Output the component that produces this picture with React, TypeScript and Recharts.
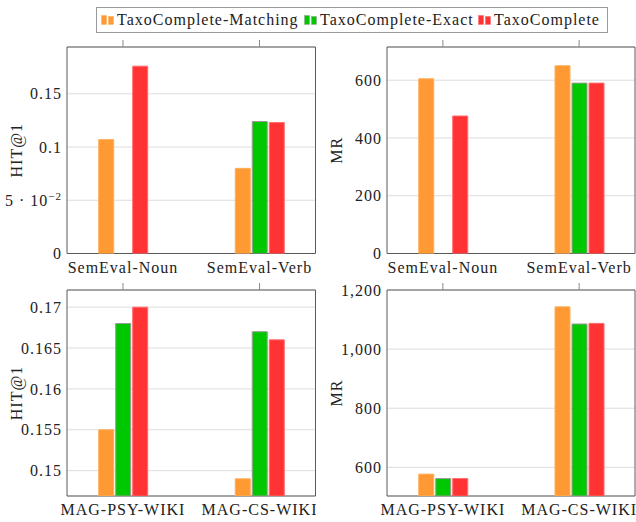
import { BarChart, Bar, XAxis, YAxis, CartesianGrid, ReferenceArea } from 'recharts';

const FONT = '"Liberation Serif", "Times New Roman", serif';

// series shown in every panel
const seriesNames = ['TaxoComplete-Matching', 'TaxoComplete-Exact', 'TaxoComplete'];
const seriesFill = ['#FF9933', '#00C800', '#FF3333'];
const seriesStroke = ['#FFAE5C', '#9A9A9A', '#FF6B6B'];

// datasets
const semevalDatasets = ['SemEval-Noun', 'SemEval-Verb'];
const magDatasets = ['MAG-PSY-WIKI', 'MAG-CS-WIKI'];

// HIT@1 on SemEval
const semevalHitMatching = [0.107, 0.08];
const semevalHitExact = [null, 0.124];
const semevalHitFull = [0.176, 0.123];

// MR on SemEval
const semevalMrMatching = [605, 650];
const semevalMrExact = [null, 590];
const semevalMrFull = [476, 590];

// HIT@1 on MAG
const magHitMatching = [0.155, 0.149];
const magHitExact = [0.168, 0.167];
const magHitFull = [0.17, 0.166];

// MR on MAG
const magMrMatching = [577, 1143];
const magMrExact = [562, 1085];
const magMrFull = [562, 1087];

// y ticks
const semevalHitTicks = [0, 0.05, 0.1, 0.15];
const semevalMrTicks = [0, 200, 400, 600];
const magHitTicks = [0.15, 0.155, 0.16, 0.165, 0.17];
const magMrTicks = [600, 800, 1000, 1200];

const xTicks = [0, 1];
const xDomain = [-0.41, 1.41];

const makeRows = (cats: string[], m: (number | null)[], e: (number | null)[], f: (number | null)[]) =>
  cats.map((name, i) => ({ idx: i, name, matching: m[i], exact: e[i], full: f[i] }));

// category label under the frame, plus the short outward tick mark above the frame
const XTick = ({ x, y, payload, labels, plotH }: any) => (
  <g>
    <line x1={x} x2={x} y1={y - plotH} y2={y - plotH - 7} stroke="#8a8a8a" strokeWidth={1} />
    <text x={x} y={y + 19} textAnchor="middle" fontFamily={FONT} fontSize={16} letterSpacing={1} fill="#222">
      {labels[payload.value]}
    </text>
  </g>
);

const YTick = ({ x, y, payload, sci }: any) => {
  const v = payload.value;
  if (sci && v === 0.05) {
    return (
      <text x={x} y={y} dy="0.35em" textAnchor="end" fontFamily={FONT} fontSize={16} letterSpacing={1} fill="#222">
        <tspan>5 · 10</tspan>
        <tspan dy={-6} fontSize={11}>−2</tspan>
      </text>
    );
  }
  const label = v >= 1000 ? v.toLocaleString('en-US') : String(v);
  return (
    <text x={x} y={y} dy="0.35em" textAnchor="end" fontFamily={FONT} fontSize={16} letterSpacing={1} fill="#222">
      {label}
    </text>
  );
};

const YTitle = ({ viewBox, text }: any) => {
  const cx = viewBox.x + viewBox.width - 45;
  const cy = viewBox.y + viewBox.height / 2;
  return (
    <text x={cx} y={cy} transform={`rotate(-90 ${cx} ${cy})`} textAnchor="middle" fontFamily={FONT} fontSize={16} letterSpacing={1} fill="#222">
      {text}
    </text>
  );
};

const Panel = ({ box, rows, categories, domain, ticks, title, sci }: any) => {
  const yw = 66;
  const top = 12;
  const bottom = 32;
  const right = 1;
  return (
    <div style={{ position: 'absolute', left: box.x - yw, top: box.y - top }}>
      <BarChart
        width={yw + box.w + right}
        height={top + box.h + bottom}
        data={rows}
        margin={{ top, right, left: 0, bottom: 0 }}
        barGap={2}
      >
        <CartesianGrid vertical={false} stroke="#dddddd" />
        <XAxis
          type="number"
          dataKey="idx"
          domain={xDomain}
          ticks={xTicks}
          allowDataOverflow
          interval={0}
          height={bottom}
          axisLine={false}
          tickLine={false}
          tickSize={0}
          tickMargin={0}
          tick={<XTick labels={categories} plotH={box.h} />}
        />
        <YAxis
          type="number"
          domain={domain}
          ticks={ticks}
          allowDataOverflow
          interval={0}
          width={yw}
          axisLine={false}
          tickLine={false}
          tickSize={0}
          tickMargin={5}
          tick={<YTick sci={sci} />}
          label={<YTitle text={title} />}
        />
        <Bar dataKey="matching" name={seriesNames[0]} fill={seriesFill[0]} stroke={seriesStroke[0]} strokeWidth={1} barSize={15} isAnimationActive={false} />
        <Bar dataKey="exact" name={seriesNames[1]} fill={seriesFill[1]} stroke={seriesStroke[1]} strokeWidth={1} barSize={15} isAnimationActive={false} />
        <Bar dataKey="full" name={seriesNames[2]} fill={seriesFill[2]} stroke={seriesStroke[2]} strokeWidth={1} barSize={15} isAnimationActive={false} />
        <ReferenceArea x1={xDomain[0]} x2={xDomain[1]} y1={domain[0]} y2={domain[1]} fill="none" stroke="#5a5a5a" strokeWidth={1} />
      </BarChart>
    </div>
  );
};

const LegendIcon = ({ color, stroke }: { color: string; stroke: string }) => (
  <svg width={13} height={10} style={{ display: 'block' }}>
    <rect x={0.5} y={0.5} width={5} height={9} fill={color} stroke={stroke} strokeWidth={0.5} />
    <rect x={7.5} y={1.5} width={5} height={8} fill={color} stroke={stroke} strokeWidth={0.5} />
  </svg>
);

const legendLefts = [4, 207, 381];

export default function App() {
  return (
    <div style={{ position: 'absolute', left: 0, top: 0, width: 636, height: 522, overflow: 'hidden', background: '#fff' }}>
      <div
        style={{
          position: 'absolute',
          left: 96,
          top: 7,
          width: 510,
          height: 24,
          border: '1px solid #9a9a9a',
          fontFamily: FONT,
          fontSize: 16,
          letterSpacing: 1,
          color: '#222',
        }}
      >
        {seriesNames.map((name, i) => (
          <div key={name} style={{ position: 'absolute', left: legendLefts[i], top: 0, height: 24, display: 'flex', alignItems: 'center' }}>
            <LegendIcon color={seriesFill[i]} stroke={seriesStroke[i]} />
            <span style={{ marginLeft: 3, whiteSpace: 'nowrap' }}>{name}</span>
          </div>
        ))}
      </div>
      <Panel
        box={{ x: 66.5, y: 47, w: 248.5, h: 206.5 }}
        rows={makeRows(semevalDatasets, semevalHitMatching, semevalHitExact, semevalHitFull)}
        categories={semevalDatasets}
        domain={[0, 0.194]}
        ticks={semevalHitTicks}
        title="HIT@1"
        sci
      />
      <Panel
        box={{ x: 387, y: 47, w: 248, h: 206.5 }}
        rows={makeRows(semevalDatasets, semevalMrMatching, semevalMrExact, semevalMrFull)}
        categories={semevalDatasets}
        domain={[0, 715]}
        ticks={semevalMrTicks}
        title="MR"
      />
      <Panel
        box={{ x: 66.5, y: 290, w: 248.5, h: 206 }}
        rows={makeRows(magDatasets, magHitMatching, magHitExact, magHitFull)}
        categories={magDatasets}
        domain={[0.1469, 0.1721]}
        ticks={magHitTicks}
        title="HIT@1"
      />
      <Panel
        box={{ x: 387, y: 290, w: 248, h: 206 }}
        rows={makeRows(magDatasets, magMrMatching, magMrExact, magMrFull)}
        categories={magDatasets}
        domain={[503, 1200]}
        ticks={magMrTicks}
        title="MR"
      />
    </div>
  );
}
